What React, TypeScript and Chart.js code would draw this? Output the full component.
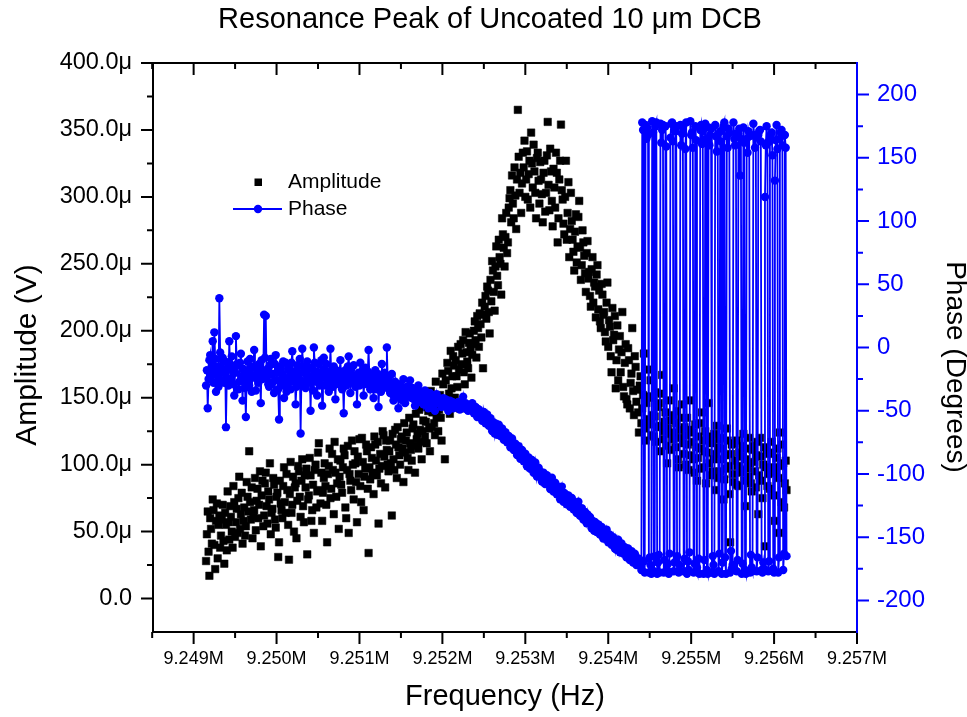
import React, { useEffect, useRef } from 'react';
import { Chart, registerables } from 'chart.js';

Chart.register(...registerables);

const FONT = '"Liberation Sans", Arial, Helvetica, sans-serif';
const CHART_TITLE = 'Resonance Peak of Uncoated 10 \u03bcm DCB';
const X_TITLE = 'Frequency (Hz)';
const Y_LEFT_TITLE = 'Amplitude (V)';
const Y_RIGHT_TITLE = 'Phase (Degrees)';

// sweep frequencies, Hz above 9.249 MHz
const FREQ_BASE_HZ = 9249000;
const freqOffsetHz = [
  150, 160, 170, 180, 190, 200, 210, 220, 230, 240, 250, 260, 270, 280, 290, 300, 310, 320, 330, 340,
  350, 360, 370, 380, 390, 400, 410, 420, 430, 440, 450, 460, 470, 480, 490, 500, 510, 520, 530, 540,
  550, 560, 570, 580, 590, 600, 610, 620, 630, 640, 650, 660, 670, 680, 690, 700, 710, 720, 730, 740,
  750, 760, 770, 780, 790, 800, 810, 820, 830, 840, 850, 860, 870, 880, 890, 900, 910, 920, 930, 940,
  950, 960, 970, 980, 990, 1000, 1010, 1020, 1030, 1040, 1050, 1060, 1070, 1080, 1090, 1100, 1110, 1120, 1130, 1140,
  1150, 1160, 1170, 1180, 1190, 1200, 1210, 1220, 1230, 1240, 1250, 1260, 1270, 1280, 1290, 1300, 1310, 1320, 1330, 1340,
  1350, 1360, 1370, 1380, 1390, 1400, 1410, 1420, 1430, 1440, 1450, 1460, 1470, 1480, 1490, 1500, 1510, 1520, 1530, 1540,
  1550, 1560, 1570, 1580, 1590, 1600, 1610, 1620, 1630, 1640, 1650, 1660, 1670, 1680, 1690, 1700, 1710, 1720, 1730, 1740,
  1750, 1760, 1770, 1780, 1790, 1800, 1810, 1820, 1830, 1840, 1850, 1860, 1870, 1880, 1890, 1900, 1910, 1920, 1930, 1940,
  1950, 1960, 1970, 1980, 1990, 2000, 2010, 2020, 2030, 2040, 2050, 2060, 2070, 2080, 2090, 2100, 2110, 2120, 2130, 2140,
  2150, 2160, 2170, 2180, 2190, 2200, 2210, 2220, 2230, 2240, 2250, 2260, 2270, 2280, 2290, 2300, 2310, 2320, 2330, 2340,
  2350, 2360, 2370, 2380, 2390, 2400, 2410, 2420, 2430, 2440, 2450, 2460, 2470, 2480, 2490, 2500, 2510, 2520, 2530, 2540,
  2550, 2560, 2570, 2580, 2590, 2600, 2610, 2620, 2630, 2640, 2650, 2660, 2670, 2680, 2690, 2700, 2710, 2720, 2730, 2740,
  2750, 2760, 2770, 2780, 2790, 2800, 2810, 2820, 2830, 2840, 2850, 2860, 2870, 2880, 2890, 2900, 2910, 2920, 2930, 2940,
  2950, 2960, 2970, 2980, 2990, 3000, 3010, 3020, 3030, 3040, 3050, 3060, 3070, 3080, 3090, 3100, 3110, 3120, 3130, 3140,
  3150, 3160, 3170, 3180, 3190, 3200, 3210, 3220, 3230, 3240, 3250, 3260, 3270, 3280, 3290, 3300, 3310, 3320, 3330, 3340,
  3350, 3360, 3370, 3380, 3390, 3400, 3410, 3420, 3430, 3440, 3450, 3460, 3470, 3480, 3490, 3500, 3510, 3520, 3530, 3540,
  3550, 3560, 3570, 3580, 3590, 3600, 3610, 3620, 3630, 3640, 3650, 3660, 3670, 3680, 3690, 3700, 3710, 3720, 3730, 3740,
  3750, 3760, 3770, 3780, 3790, 3800, 3810, 3820, 3830, 3840, 3850, 3860, 3870, 3880, 3890, 3900, 3910, 3920, 3930, 3940,
  3950, 3960, 3970, 3980, 3990, 4000, 4010, 4020, 4030, 4040, 4050, 4060, 4070, 4080, 4090, 4100, 4110, 4120, 4130, 4140,
  4150, 4160, 4170, 4180, 4190, 4200, 4210, 4220, 4230, 4240, 4250, 4260, 4270, 4280, 4290, 4300, 4310, 4320, 4330, 4340,
  4350, 4360, 4370, 4380, 4390, 4400, 4410, 4420, 4430, 4440, 4450, 4460, 4470, 4480, 4490, 4500, 4510, 4520, 4530, 4540,
  4550, 4560, 4570, 4580, 4590, 4600, 4610, 4620, 4630, 4640, 4650, 4660, 4670, 4680, 4690, 4700, 4710, 4720, 4730, 4740,
  4750, 4760, 4770, 4780, 4790, 4800, 4810, 4820, 4830, 4840, 4850, 4860, 4870, 4880, 4890, 4900, 4910, 4920, 4930, 4940,
  4950, 4960, 4970, 4980, 4990, 5000, 5010, 5020, 5030, 5040, 5050, 5060, 5070, 5080, 5090, 5100, 5110, 5120, 5130, 5140,
  5150, 5160, 5170, 5180, 5190, 5200, 5210, 5220, 5230, 5240, 5250, 5260, 5270, 5280, 5290, 5300, 5310, 5320, 5330, 5340,
  5350, 5360, 5370, 5380, 5390, 5400, 5410, 5420, 5430, 5440, 5450, 5460, 5470, 5480, 5490, 5500, 5510, 5520, 5530, 5540,
  5550, 5560, 5570, 5580, 5590, 5600, 5610, 5620, 5630, 5640, 5650, 5660, 5670, 5680, 5690, 5700, 5710, 5720, 5730, 5740,
  5750, 5760, 5770, 5780, 5790, 5800, 5810, 5820, 5830, 5840, 5850, 5860, 5870, 5880, 5890, 5900, 5910, 5920, 5930, 5940,
  5950, 5960, 5970, 5980, 5990, 6000, 6010, 6020, 6030, 6040, 6050, 6060, 6070, 6080, 6090, 6100, 6110, 6120, 6130, 6140,
  6150, 6160, 6170, 6180, 6190, 6200, 6210, 6220, 6230, 6240, 6250, 6260, 6270, 6280, 6290, 6300, 6310, 6320, 6330, 6340,
  6350, 6360, 6370, 6380, 6390, 6400, 6410, 6420, 6430, 6440, 6450, 6460, 6470, 6480, 6490, 6500, 6510, 6520, 6530, 6540,
  6550, 6560, 6570, 6580, 6590, 6600, 6610, 6620, 6630, 6640, 6650, 6660, 6670, 6680, 6690, 6700, 6710, 6720, 6730, 6740,
  6750, 6760, 6770, 6780, 6790, 6800, 6810, 6820, 6830, 6840, 6850, 6860, 6870, 6880, 6890, 6900, 6910, 6920, 6930, 6940,
  6950, 6960, 6970, 6980, 6990, 7000, 7010, 7020, 7030, 7040, 7050, 7060, 7070, 7080, 7090, 7100, 7110, 7120, 7130, 7140,
  7150,
];

// amplitude in microvolts
const amplitudeMicroV = [
  28, 48, 65, 35, 17, 60, 52, 41, 74, 66, 40, 22, 58, 71, 30, 55, 62, 38, 47, 59,
  70, 43, 26, 64, 55, 36, 80, 57, 44, 69, 61, 50, 38, 84, 72, 46, 57, 67, 49, 75,
  91, 52, 63, 79, 41, 58, 68, 47, 54, 87, 76, 65, 110, 72, 59, 83, 45, 61, 66, 90,
  51, 73, 82, 60, 70, 95, 39, 77, 88, 54, 62, 86, 94, 69, 56, 80, 74, 101, 48, 64,
  67, 90, 85, 59, 53, 76, 79, 31, 42, 88, 71, 66, 60, 84, 98, 72, 64, 93, 81, 55,
  29, 78, 102, 64, 70, 91, 50, 83, 86, 45, 73, 99, 95, 76, 61, 88, 104, 69, 57, 92,
  83, 97, 33, 74, 77, 105, 92, 58, 66, 85, 49, 96, 100, 68, 80, 109, 116, 81, 71, 94,
  58, 79, 90, 101, 84, 70, 42, 93, 99, 112, 75, 82, 108, 96, 63, 117, 94, 76, 86, 104,
  52, 91, 103, 85, 79, 98, 112, 107, 68, 60, 96, 114, 49, 93, 88, 81, 118, 100, 74, 110,
  101, 87, 57, 106, 93, 119, 84, 72, 120, 102, 66, 91, 97, 115, 110, 82, 34, 98, 89, 113,
  105, 94, 78, 121, 115, 103, 92, 117, 56, 97, 108, 86, 99, 125, 122, 106, 83, 118, 111, 100,
  95, 110, 118, 101, 62, 123, 104, 96, 126, 115, 90, 128, 113, 107, 100, 119, 121, 112, 87, 131,
  109, 118, 124, 105, 96, 135, 116, 111, 103, 127, 130, 114, 94, 138, 119, 123, 112, 141, 126, 117,
  104, 125, 133, 143, 121, 132, 116, 150, 140, 127, 110, 155, 128, 139, 147, 131, 122, 162, 136, 145,
  125, 141, 152, 135, 118, 168, 160, 149, 104, 163, 145, 176, 170, 153, 138, 185, 157, 166, 181, 174,
  150, 178, 166, 158, 188, 171, 142, 190, 175, 183, 193, 169, 160, 199, 184, 177, 172, 191, 198, 186,
  165, 182, 190, 200, 207, 193, 180, 211, 202, 188, 213, 205, 195, 221, 172, 212, 218, 226, 209, 233,
  230, 214, 198, 238, 222, 252, 245, 229, 215, 248, 263, 241, 234, 268, 255, 250, 227, 284, 272, 262,
  248, 270, 288, 258, 266, 292, 299, 305, 281, 316, 295, 284, 322, 301, 276, 313, 365, 330, 303, 318,
  288, 310, 333, 322, 342, 300, 313, 334, 298, 317, 327, 292, 348, 325, 307, 339, 319, 303, 284, 329,
  333, 312, 295, 326, 313, 302, 281, 318, 327, 289, 303, 331, 356, 309, 290, 336, 319, 297, 278, 321,
  307, 292, 333, 318, 266, 284, 313, 327, 354, 305, 298, 280, 272, 300, 327, 268, 288, 311, 255, 276,
  303, 282, 268, 259, 245, 274, 287, 251, 263, 285, 297, 262, 238, 249, 275, 266, 256, 243, 229, 258,
  267, 239, 244, 226, 218, 246, 255, 221, 236, 233, 210, 242, 249, 216, 230, 207, 202, 235, 227, 212,
  214, 199, 192, 221, 236, 188, 208, 203, 181, 169, 217, 193, 197, 211, 157, 178, 204, 163, 186, 196,
  169, 184, 214, 158, 151, 176, 190, 149, 145, 187, 178, 142, 161, 168, 202, 155, 137, 181, 173, 147,
  156, 139, 124, 159, 166, 131, 142, 152, 183, 127, 118, 146, 151, 134, 130, 171, 163, 122, 137, 150,
  121, 136, 154, 117, 128, 143, 146, 129, 110, 153, 167, 119, 125, 132, 139, 114, 101, 127, 148, 123,
  133, 111, 119, 137, 157, 124, 113, 131, 140, 104, 98, 120, 126, 135, 145, 116, 108, 128, 122, 100,
  135, 115, 96, 126, 148, 107, 117, 124, 104, 94, 130, 113, 88, 105, 121, 131, 112, 97, 139, 118,
  98, 110, 125, 86, 109, 121, 146, 101, 92, 116, 118, 95, 104, 123, 81, 108, 129, 90, 113, 119,
  95, 104, 120, 112, 74, 89, 107, 97, 127, 118, 99, 78, 42, 108, 115, 93, 87, 116, 103, 85,
  118, 99, 84, 109, 106, 94, 96, 114, 123, 88, 69, 104, 112, 97, 91, 120, 101, 86, 80, 111,
  114, 102, 95, 83, 107, 117, 63, 92, 120, 106, 88, 75, 100, 113, 39, 98, 111, 84, 93, 108,
  82, 96, 117, 109, 98, 77, 58, 94, 105, 112, 90, 49, 124, 99, 72, 115, 101, 68, 86, 103,
  81,
];

// phase in degrees
const phaseDeg = [
  -30, -18, -48, -25, -10, -6, -22, -14, 5, -28, 12, -9, -35, -22, -15, -31, 39, -4, -20, -26,
  -8, -19, -28, -11, -63, -24, -12, -30, 5, -16, -25, -7, -18, -29, -38, -20, 9, -13, -14, -33,
  -27, -12, -5, -23, -42, -17, -19, -32, -55, -21, -11, -26, -30, -9, -16, -35, -22, -15, -2, -24,
  -34, -16, -20, -28, -13, -22, -44, -10, -25, -19, 26, -8, 25, -24, -17, -29, -31, -14, -9, -21,
  -21, -27, -36, -13, -6, -20, -26, -33, -57, -18, -15, -30, -23, -11, -40, -24, -12, -35, -29, -17,
  -18, -25, -33, -12, -3, -27, -24, -19, -45, -31, -14, -22, -28, -9, -68, -26, -1, -15, -20, -30,
  -32, -21, -11, -28, -25, -16, -50, -23, -17, -34, 0, -12, -27, -19, -38, -26, -13, -30, -22, -10,
  -46, -24, -8, -17, -30, -13, -19, -27, -35, -20, -1, -22, -24, -31, -15, -26, -41, -18, -21, -29,
  -28, -19, -10, -24, -33, -27, -52, -21, -18, -30, -26, -15, -7, -22, -36, -17, -23, -28, -14, -25,
  -31, -23, -45, -27, -20, -30, -12, -21, -29, -18, -38, -26, -16, -29, -25, -19, -2, -24, -33, -28,
  -22, -30, -40, -25, -18, -33, -28, -21, -47, -28, -24, -35, -13, -27, -32, -20, -26, -31, 0, -24,
  -30, -33, -36, -28, -21, -37, -42, -31, -27, -39, -34, -30, -48, -35, -29, -41, -38, -32, -25, -36,
  -44, -36, -31, -39, -37, -34, -26, -38, -40, -32, -33, -41, -46, -37, -35, -40, -30, -43, -42, -35,
  -38, -40, -45, -37, -34, -44, -41, -39, -48, -42, -36, -46, -43, -38, -39, -45, -50, -41, -37, -43,
  -44, -42, -41, -45, -47, -43, -40, -44, -46, -41, -43, -47, -50, -44, -42, -46, -45, -43, -48, -45,
  -44, -46, -47, -44, -43, -47, -49, -45, -46, -43, -39, -46, -48, -44, -45, -49, -50, -47, -47, -48,
  -49, -44, -46, -52, -51, -47, -48, -55, -53, -49, -50, -54, -52, -58, -56, -51, -54, -60, -58, -53,
  -57, -62, -60, -56, -62, -66, -59, -63, -68, -60, -63, -69, -66, -61, -64, -70, -69, -64, -67, -73,
  -71, -67, -69, -75, -74, -70, -72, -79, -77, -72, -75, -81, -80, -76, -78, -85, -83, -78, -81, -88,
  -86, -81, -84, -90, -89, -84, -87, -94, -92, -87, -90, -96, -95, -89, -93, -99, -97, -91, -96, -102,
  -99, -95, -102, -98, -100, -106, -104, -99, -101, -108, -106, -101, -108, -104, -105, -112, -110, -103, -107, -114,
  -112, -107, -109, -116, -114, -111, -116, -120, -113, -110, -118, -122, -115, -116, -120, -124, -122, -117, -119, -126,
  -124, -119, -121, -128, -126, -123, -128, -131, -125, -122, -130, -133, -133, -127, -129, -136, -134, -130, -136, -139,
  -132, -137, -138, -134, -140, -143, -137, -141, -145, -138, -139, -146, -144, -140, -141, -148, -146, -142, -148, -151,
  -145, -150, -150, -144, -147, -154, -152, -148, -149, -156, -154, -150, -156, -159, -153, -160, -158, -152, -155, -162,
  -160, -155, -157, -163, -162, -158, -159, -166, -164, -159, -161, -168, -166, -161, -163, -170, -168, -163, -165, -172,
  -170, -168, -167, -171, -172, -176, 178, 172, -169, -178, 176, 165, 174, 168, -178, -166, -172, -179, 179, 170,
  -177, -165, 175, 178, -179, -170, -164, -178, 177, 162, 172, 176, -178, -168, 175, 159, -176, -171, -179, -163,
  166, 177, 178, 163, -177, -170, 171, 175, -165, -177, -178, -172, 176, 160, 169, 174, -177, -167, 157, 178,
  -179, -169, -176, -162, 179, 168, 170, 158, -178, -171, 175, 164, -174, -178, -167, -179, 172, 176, 161, 171,
  -179, -168, 177, 165, -176, -179, 174, 160, 168, 173, -178, -165, -172, -179, 176, 167, 155, 168, -177, -163,
  171, 163, -179, -170, 175, 178, -166, -179, 167, 158, 173, 170, -178, -161, -175, -172, 178, 165, 160, 169,
  -177, -168, 169, 173, 136, 165, -179, -171, 174, 162, -176, -179, 165, 154, 171, 167, -178, -164, -174, -177,
  177, 168, 158, 166, -177, -166, 168, 171, 172, 163, -176, -178, -170, -175, 119, 160, 175, 162, -177, -169,
  163, 168, 170, 152, -175, -178, 132, 164, 176, 157, -178, -166, 165, 170, 172, 160, -176, -163, 168, 158,
  -165,
];

// axis ticks
const xMajorTicksHz = [9249000, 9250000, 9251000, 9252000, 9253000, 9254000, 9255000, 9256000, 9257000];
const xMinorTicksHz = [9248500, 9249500, 9250500, 9251500, 9252500, 9253500, 9254500, 9255500, 9256500];
const ampMajorTicks = [0, 50, 100, 150, 200, 250, 300, 350, 400];
const ampMinorTicks = [25, 75, 125, 175, 225, 275, 325, 375];
const phaseMajorTicks = [-200, -150, -100, -50, 0, 50, 100, 150, 200];
const phaseMinorTicks = [-175, -125, -75, -25, 25, 75, 125, 175];

const X_MIN = 9248510;
const X_MAX = 9257000;
const AMP_MIN = -25;
const AMP_MAX = 400;
const PHASE_MIN = -225;
const PHASE_MAX = 225;

const BLUE = '#0000ff';

const axesPlugin = {
  id: 'originAxes',
  afterDatasetsDraw(chart: any) {
    const { ctx, chartArea, scales } = chart;
    const { left, right, top, bottom } = chartArea;
    const MAJ = 12;
    const MIN = 6;
    ctx.save();
    ctx.lineWidth = 2;
    ctx.lineCap = 'butt';
    ctx.strokeStyle = '#000';
    ctx.beginPath();
    ctx.moveTo(left - 1, top);
    ctx.lineTo(right, top);
    ctx.moveTo(left, top - 1);
    ctx.lineTo(left, bottom + 1);
    ctx.moveTo(left - 1, bottom);
    ctx.lineTo(right + 1, bottom);
    xMajorTicksHz.forEach((v) => {
      const px = scales.x.getPixelForValue(v);
      ctx.moveTo(px, bottom);
      ctx.lineTo(px, bottom + MAJ);
      ctx.moveTo(px, top);
      ctx.lineTo(px, top + MAJ);
    });
    xMinorTicksHz.forEach((v) => {
      const px = scales.x.getPixelForValue(v);
      if (px < left - 2 || px > right + 2) return;
      ctx.moveTo(px, bottom);
      ctx.lineTo(px, bottom + MIN);
      ctx.moveTo(px, top);
      ctx.lineTo(px, top + MIN);
    });
    ampMajorTicks.forEach((v) => {
      const py = scales.y.getPixelForValue(v);
      ctx.moveTo(left, py);
      ctx.lineTo(left - MAJ, py);
    });
    ampMinorTicks.forEach((v) => {
      const py = scales.y.getPixelForValue(v);
      ctx.moveTo(left, py);
      ctx.lineTo(left - MIN, py);
    });
    ctx.stroke();

    ctx.strokeStyle = BLUE;
    ctx.beginPath();
    ctx.moveTo(right, top - 1);
    ctx.lineTo(right, bottom + 1);
    phaseMajorTicks.forEach((v) => {
      const py = scales.y1.getPixelForValue(v);
      ctx.moveTo(right, py);
      ctx.lineTo(right + MAJ, py);
    });
    phaseMinorTicks.forEach((v) => {
      const py = scales.y1.getPixelForValue(v);
      ctx.moveTo(right, py);
      ctx.lineTo(right + MIN, py);
    });
    ctx.stroke();
    ctx.restore();
  },
};

const labelsPlugin = {
  id: 'extraLabels',
  afterDraw(chart: any) {
    const { ctx } = chart;
    ctx.save();
    // vertical axis titles
    ctx.fillStyle = '#000';
    ctx.textAlign = 'center';
    ctx.textBaseline = 'middle';
    ctx.font = `30px ${FONT}`;
    ctx.save();
    ctx.translate(28, 355);
    ctx.rotate(-Math.PI / 2);
    ctx.fillText(Y_LEFT_TITLE, 0, 0);
    ctx.restore();
    ctx.font = `28px ${FONT}`;
    ctx.save();
    ctx.translate(955, 367);
    ctx.rotate(Math.PI / 2);
    ctx.fillText(Y_RIGHT_TITLE, 0, 0);
    ctx.restore();

    // legend
    ctx.font = `21px ${FONT}`;
    ctx.textBaseline = 'middle';
    ctx.textAlign = 'left';
    ctx.fillStyle = '#000';
    ctx.fillRect(254.5, 178.5, 7.5, 7.5);
    ctx.fillText('Amplitude', 288, 182);
    ctx.strokeStyle = BLUE;
    ctx.lineWidth = 1.8;
    ctx.beginPath();
    ctx.moveTo(233, 209);
    ctx.lineTo(282, 209);
    ctx.stroke();
    ctx.fillStyle = BLUE;
    ctx.beginPath();
    ctx.arc(258, 209, 4.2, 0, Math.PI * 2);
    ctx.fill();
    ctx.fillStyle = '#000';
    ctx.fillText('Phase', 288, 209);
    ctx.restore();
  },
};

export default function App() {
  const canvasRef = useRef<HTMLCanvasElement | null>(null);

  useEffect(() => {
    document.body.style.margin = '0';
    const canvas = canvasRef.current;
    if (!canvas) return;

    const ampPoints = freqOffsetHz.map((f, i) => ({ x: FREQ_BASE_HZ + f, y: amplitudeMicroV[i] }));
    const phasePoints = freqOffsetHz.map((f, i) => ({ x: FREQ_BASE_HZ + f, y: phaseDeg[i] }));

    const chart = new Chart(canvas, {
      type: 'scatter',
      data: {
        datasets: [
          {
            label: 'Amplitude',
            data: ampPoints,
            yAxisID: 'y',
            showLine: false,
            pointStyle: 'rect',
            pointRadius: 5.3,
            pointBorderWidth: 0.5,
            pointBackgroundColor: '#000',
            pointBorderColor: '#000',
            backgroundColor: '#000',
            borderColor: '#000',
            order: 1,
          },
          {
            label: 'Phase',
            data: phasePoints,
            yAxisID: 'y1',
            showLine: true,
            borderColor: BLUE,
            borderWidth: 1.8,
            backgroundColor: BLUE,
            pointStyle: 'circle',
            pointRadius: 4.2,
            pointBorderWidth: 0,
            pointBackgroundColor: BLUE,
            pointBorderColor: BLUE,
            order: 0,
          },
        ],
      },
      options: {
        animation: false,
        responsive: true,
        maintainAspectRatio: false,
        events: [],
        layout: { padding: { left: 13, right: 0, top: 0, bottom: 0 } },
        plugins: {
          legend: { display: false },
          tooltip: { enabled: false },
          title: {
            display: true,
            text: CHART_TITLE,
            color: '#000',
            font: { family: FONT, size: 29, weight: 'normal', lineHeight: 1.2 },
            padding: { top: 3, bottom: 25.2 },
          },
        },
        scales: {
          x: {
            type: 'linear',
            position: 'bottom',
            min: X_MIN,
            max: X_MAX,
            grid: { display: false, drawTicks: false },
            border: { display: false },
            afterBuildTicks: (scale: any) => {
              scale.ticks = xMajorTicksHz.map((v) => ({ value: v }));
            },
            afterFit: (scale: any) => {
              scale.height = 85;
            },
            ticks: {
              color: '#000',
              padding: 16.5,
              maxRotation: 0,
              autoSkip: false,
              font: { family: FONT, size: 18 },
              callback: (v: any) => (Number(v) / 1e6).toFixed(3) + 'M',
            },
            title: {
              display: true,
              text: X_TITLE,
              color: '#000',
              font: { family: FONT, size: 29, lineHeight: 0.8 },
              padding: { top: 0, bottom: 8.4 },
            },
          },
          y: {
            type: 'linear',
            position: 'left',
            min: AMP_MIN,
            max: AMP_MAX,
            grid: { display: false, drawTicks: false },
            border: { display: false },
            afterBuildTicks: (scale: any) => {
              scale.ticks = ampMajorTicks.map((v) => ({ value: v }));
            },
            afterFit: (scale: any) => {
              scale.width = 140;
            },
            ticks: {
              color: '#000',
              padding: 21,
              autoSkip: false,
              font: { family: FONT, size: 23.5 },
              callback: (v: any) => (Number(v) === 0 ? '0.0' : Number(v).toFixed(1) + '\u03bc'),
            },
            title: { display: false },
          },
          y1: {
            type: 'linear',
            position: 'right',
            min: PHASE_MIN,
            max: PHASE_MAX,
            grid: { display: false, drawTicks: false },
            border: { display: false },
            afterBuildTicks: (scale: any) => {
              scale.ticks = phaseMajorTicks.map((v) => ({ value: v }));
            },
            afterFit: (scale: any) => {
              scale.width = 110;
            },
            ticks: {
              color: BLUE,
              padding: 20,
              autoSkip: false,
              font: { family: FONT, size: 24 },
              callback: (v: any) => String(v),
            },
            title: { display: false },
          },
        },
      },
      plugins: [axesPlugin, labelsPlugin],
    } as any);

    return () => {
      chart.destroy();
    };
  }, []);

  return (
    <div style={{ width: 967, height: 717, position: 'relative' }}>
      <canvas ref={canvasRef} />
    </div>
  );
}
